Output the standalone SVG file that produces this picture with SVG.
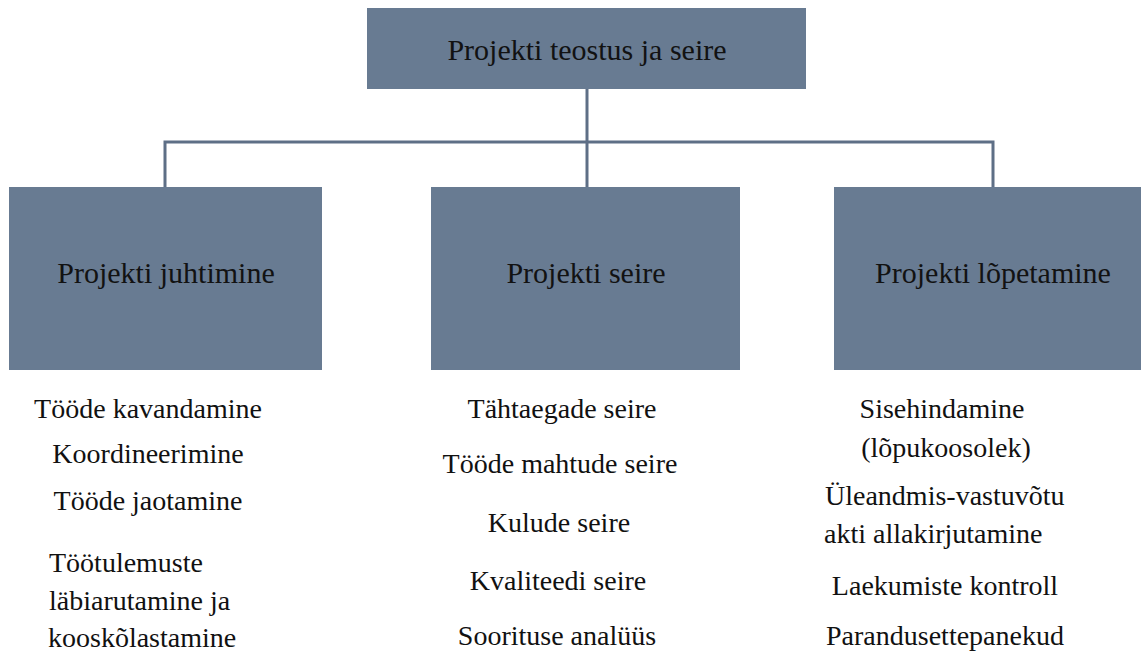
<svg xmlns="http://www.w3.org/2000/svg" width="1141" height="655" viewBox="0 0 1141 655">
<style>
.box{fill:#687b92;}
.bt{font-family:'Liberation Serif','DejaVu Serif',serif;font-size:30px;fill:#121212;text-anchor:middle;}
.it{font-family:'Liberation Serif','DejaVu Serif',serif;font-size:28px;fill:#111;}
.c{text-anchor:middle;}
.conn{fill:none;stroke:#5e6f86;stroke-width:3;}
</style>
<rect width="1141" height="655" fill="#ffffff"/>
<g id="connectors">
<path class="conn" d="M587 89 V187"/>
<path class="conn" d="M165 187 V142 H993 V187"/>
</g>
<g id="node-root">
<rect class="box" x="367" y="8" width="439" height="81"/>
<text class="bt" x="587" y="60" font-family="Liberation Serif, serif">Projekti teostus ja seire</text>
</g>
<g id="node-juhtimine">
<rect class="box" x="9" y="187" width="313" height="183"/>
<text class="bt" x="166" y="283" font-family="Liberation Serif, serif">Projekti juhtimine</text>
</g>
<g id="node-seire">
<rect class="box" x="431" y="187" width="309" height="183"/>
<text class="bt" x="586" y="283" font-family="Liberation Serif, serif">Projekti seire</text>
</g>
<g id="node-lopetamine">
<rect class="box" x="834" y="187" width="307" height="183"/>
<text class="bt" x="993" y="283" font-family="Liberation Serif, serif">Projekti lõpetamine</text>
</g>
<g id="list-juhtimine" class="it" font-family="Liberation Serif, serif">
<text class="c" x="148" y="418">Tööde kavandamine</text>
<text class="c" x="148" y="463">Koordineerimine</text>
<text class="c" x="148" y="510">Tööde jaotamine</text>
<text x="49" y="572">Töötulemuste</text>
<text x="49" y="610">läbiarutamine ja</text>
<text x="48" y="647">kooskõlastamine</text>
</g>
<g id="list-seire" class="it" font-family="Liberation Serif, serif">
<text class="c" x="562" y="418">Tähtaegade seire</text>
<text class="c" x="560" y="473">Tööde mahtude seire</text>
<text class="c" x="559" y="532">Kulude seire</text>
<text class="c" x="558" y="590">Kvaliteedi seire</text>
<text class="c" x="557" y="645">Soorituse analüüs</text>
</g>
<g id="list-lopetamine" class="it" font-family="Liberation Serif, serif">
<text class="c" x="942" y="418">Sisehindamine</text>
<text class="c" x="946" y="457">(lõpukoosolek)</text>
<text x="825" y="505">Üleandmis-vastuvõtu</text>
<text x="824" y="543">akti allakirjutamine</text>
<text class="c" x="945" y="595">Laekumiste kontroll</text>
<text class="c" x="945" y="645">Parandusettepanekud</text>
</g>
</svg>
